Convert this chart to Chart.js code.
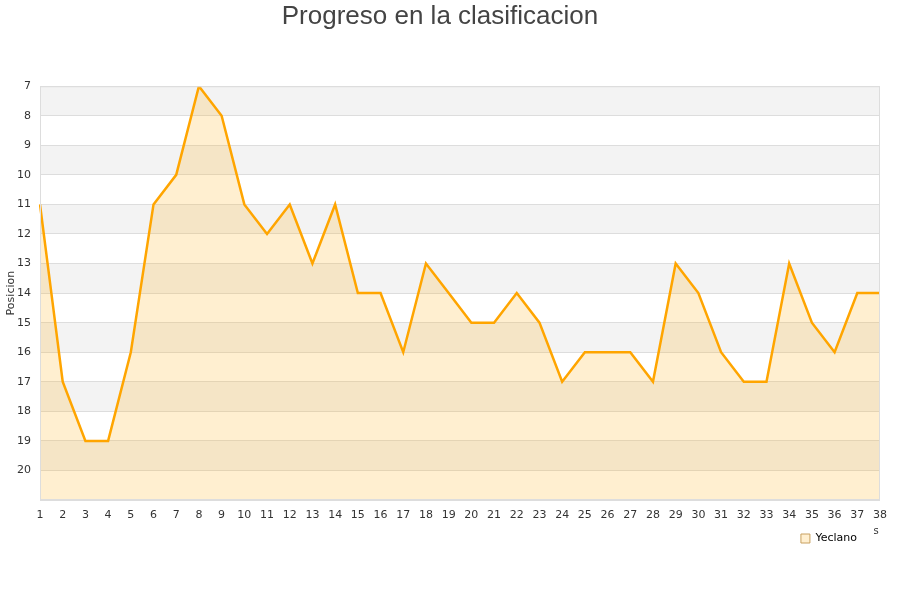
<!DOCTYPE html>
<html>

<head>
    <meta charset="utf-8">
    <script src="https://cdn.jsdelivr.net/npm/chart.js@4.4.1/dist/chart.umd.min.js"></script>
    <style>
        html, body { margin: 0; padding: 0; background: #fff; }
        #chart-container { width: 900px; height: 600px; position: relative; }
    </style>
</head>

<body>
    <div id="chart-container">
        <canvas id="progressChart" width="900" height="600"></canvas>
    </div>
    <script>
        // jornadas 1..38
        const jornadas = ["1", "2", "3", "4", "5", "6", "7", "8", "9", "10", "11", "12", "13", "14", "15", "16", "17", "18", "19",
            "20", "21", "22", "23", "24", "25", "26", "27", "28", "29", "30", "31", "32", "33", "34", "35", "36", "37", "38"];
        const posicionYeclano = [11, 17, 19, 19, 16, 11, 10, 7, 8, 11, 12, 11, 13, 11, 14, 14, 16, 13, 14,
            15, 15, 14, 15, 17, 16, 16, 16, 17, 13, 14, 16, 17, 17, 13, 15, 16, 14, 14];
        const posMin = 7;
        const posMax = 21;

        // alternating background bands + frame
        const bandsPlugin = {
            id: 'bands',
            afterLayout(chart) {
                // legend sits a bit left of the plot's right edge
                if (chart.legend) chart.legend.right -= 13;
            },
            beforeDraw(chart) {
                const { ctx, chartArea, scales } = chart;
                const y = scales.y;
                ctx.save();
                for (let v = posMin; v < posMax; v++) {
                    const y1 = y.getPixelForValue(v);
                    const y2 = y.getPixelForValue(v + 1);
                    ctx.fillStyle = ((v - posMin) % 2 === 0) ? '#f3f3f3' : '#ffffff';
                    ctx.fillRect(chartArea.left, y1, chartArea.right - chartArea.left, y2 - y1);
                }
                ctx.restore();
            },
            afterDatasetsDraw(chart) {
                const { ctx, chartArea } = chart;
                ctx.save();
                ctx.strokeStyle = '#dddddd';
                ctx.lineWidth = 1;
                ctx.strokeRect(chartArea.left + 0.5, chartArea.top + 0.5,
                    chartArea.right - chartArea.left - 1, chartArea.bottom - chartArea.top - 1);
                ctx.restore();
            },
            afterDraw(chart) {
                // leftover of the x axis title peeking out beside the legend
                const { ctx } = chart;
                ctx.save();
                ctx.fillStyle = '#333';
                ctx.font = '10px "DejaVu Sans"';
                ctx.textAlign = 'center';
                ctx.textBaseline = 'middle';
                ctx.fillText('s', 876, 531);
                ctx.restore();
            }
        };

        const ctx = document.getElementById('progressChart').getContext('2d');

        const progressChart = new Chart(ctx, {
            type: 'line',
            data: {
                labels: jornadas,
                datasets: [{
                    label: 'Yeclano',
                    data: posicionYeclano,
                    borderColor: '#ffa500',
                    borderWidth: 2.5,
                    backgroundColor: 'rgba(255, 180, 40, 0.22)',
                    fill: { value: posMax },
                    tension: 0,
                    pointRadius: 0
                }]
            },
            options: {
                responsive: false,
                animation: false,
                devicePixelRatio: 1,
                layout: {
                    padding: { left: 0, right: 20, top: 0, bottom: 46 }
                },
                plugins: {
                    title: {
                        display: true,
                        text: 'Progreso en la clasificacion',
                        color: '#444',
                        font: { family: '"Liberation Sans", Arial', size: 26, weight: 'normal' },
                        padding: { top: 1, bottom: 54 }
                    },
                    legend: {
                        position: 'bottom',
                        align: 'end',
                        labels: {
                            boxWidth: 9,
                            boxHeight: 9,
                            color: '#222',
                            font: { family: '"DejaVu Sans"', size: 11 },
                            padding: 10,
                            generateLabels(chart) {
                                return chart.data.datasets.map((ds, i) => ({
                                    text: ds.label,
                                    fillStyle: '#ffefd0',
                                    strokeStyle: '#c8a060',
                                    lineWidth: 1,
                                    datasetIndex: i
                                }));
                            }
                        }
                    },
                    tooltip: { enabled: false }
                },
                scales: {
                    x: {
                        offset: false,
                        grid: { display: false },
                        border: { display: false },
                        ticks: {
                            color: '#333',
                            font: { family: '"DejaVu Sans"', size: 11 },
                            maxRotation: 0,
                            autoSkip: false,
                            padding: 1
                        },
                        afterFit(scale) { scale.height = 23; }
                    },
                    y: {
                        reverse: true,
                        min: posMin,
                        max: posMax,
                        grid: { color: '#dddddd', drawTicks: false },
                        border: { display: false },
                        title: {
                            display: true,
                            text: 'Posicion',
                            color: '#333',
                            font: { family: '"DejaVu Sans"', size: 11 },
                            padding: { top: 5, bottom: 0 }
                        },
                        ticks: {
                            stepSize: 1,
                            color: '#333',
                            font: { family: '"DejaVu Sans"', size: 11 },
                            padding: 9,
                            callback: (v) => (v === posMax ? '' : v)
                        },
                        afterFit(scale) { scale.width = 40; }
                    }
                }
            },
            plugins: [bandsPlugin]
        });
    </script>
</body>

</html>
